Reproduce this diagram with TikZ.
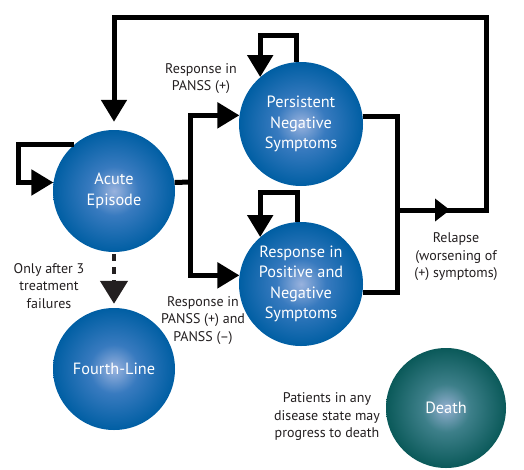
\documentclass[tikz,border=0pt]{standalone}
\usepackage{fontspec}
\setmainfont{PT Sans}
\usetikzlibrary{arrows.meta,calc}
\definecolor{ink}{HTML}{231F20}
\pgfdeclareradialshading{bluesh}{\pgfpoint{0bp}{0bp}}{rgb(0bp)=(0.60,0.70,0.87); rgb(10bp)=(0.22,0.48,0.75); rgb(25bp)=(0.0,0.37,0.64); rgb(50bp)=(0.0,0.37,0.64)}
\pgfdeclareradialshading{tealsh}{\pgfpoint{0bp}{0bp}}{rgb(0bp)=(0.58,0.69,0.82); rgb(10bp)=(0.24,0.50,0.54); rgb(25bp)=(0.04,0.35,0.35); rgb(50bp)=(0.04,0.35,0.35)}
\begin{document}
\begin{tikzpicture}[x=1pt,y=-1pt,
  stnode/.style={circle, inner sep=0pt, minimum size=#1, shading=bluesh, text=white, align=center, font=\fontsize{16.3}{20.5}\selectfont},
  lbl/.style={align=center, text=ink, inner sep=0pt, font=\fontsize{14}{17.5}\selectfont},
  conn/.style={line width=5pt, draw=black},
  arr/.style={conn, -{Triangle[length=22pt,width=25pt]}},
  midarr/.style={conn, -{Triangle[length=15pt,width=22pt]}}
]
\useasboundingbox (0,0) rectangle (524,469);

% states
\node[stnode=122pt] (acute) at (114,191) {Acute\\Episode};
\node[stnode=124pt] (pns) at (301,124) {Persistent\\Negative\\Symptoms};
\node[stnode=124pt] (resp) at (301,284) {Response in\\Positive and\\Negative\\Symptoms};
\node[stnode=122pt] (fourth) at (114,369) {Fourth-Line};
\node[stnode=120pt, shading=tealsh] (death) at (446,408) {Death};

% labels
\node[lbl] (l1) at (201,78.5) {Response in\\PANSS (+)};
\node[lbl] (l2) at (49,286) {Only after 3\\treatment\\failures};
\node[lbl] (l3) at (203,320.5) {Response in\\PANSS (+) and\\PANSS (--)};
\node[lbl] (l4) at (456,257) {Relapse\\(worsening of\\(+) symptoms)};
\node[lbl] (l5) at (327,417) {Patients in any\\disease state may\\progress to death};

% helper coordinates
\coordinate (split) at (190,182);
\coordinate (acl) at (18,160);
\coordinate (pnsl) at (280,35);
\coordinate (respl) at (280,192);
\coordinate (j) at (397,210);
\coordinate (jm) at (450,210);
\coordinate (tr) at (486,17);

% acute -> branches
\draw[conn] (acute.8) -- (split);
\draw[arr] (split) |- (pns.172);
\draw[arr] (split) |- (resp.172);

% self loops
\draw[arr] (acute.131) -| (acl) |- (acute.172);
\draw[arr] (pns.94) |- (pnsl) -| (pns.131);
\draw[arr] (resp.93) |- (respl) -| (resp.131);

% relapse loop
\draw[conn] (pns.7) -| (j);
\draw[conn] (resp.-8) -| (j);
\draw[arr, shorten >=8pt] (j) -| (tr) -| (acute.north);
\draw[midarr] (j) -- (jm);

% dashed to fourth line
\draw[draw=ink, line width=4.5pt, dash pattern=on 7pt off 6pt, shorten <=2pt, shorten >=4pt,
      -{Triangle[length=23pt,width=27pt]}, ink] (acute.south) -- (fourth.north);
\end{tikzpicture}
\end{document}
